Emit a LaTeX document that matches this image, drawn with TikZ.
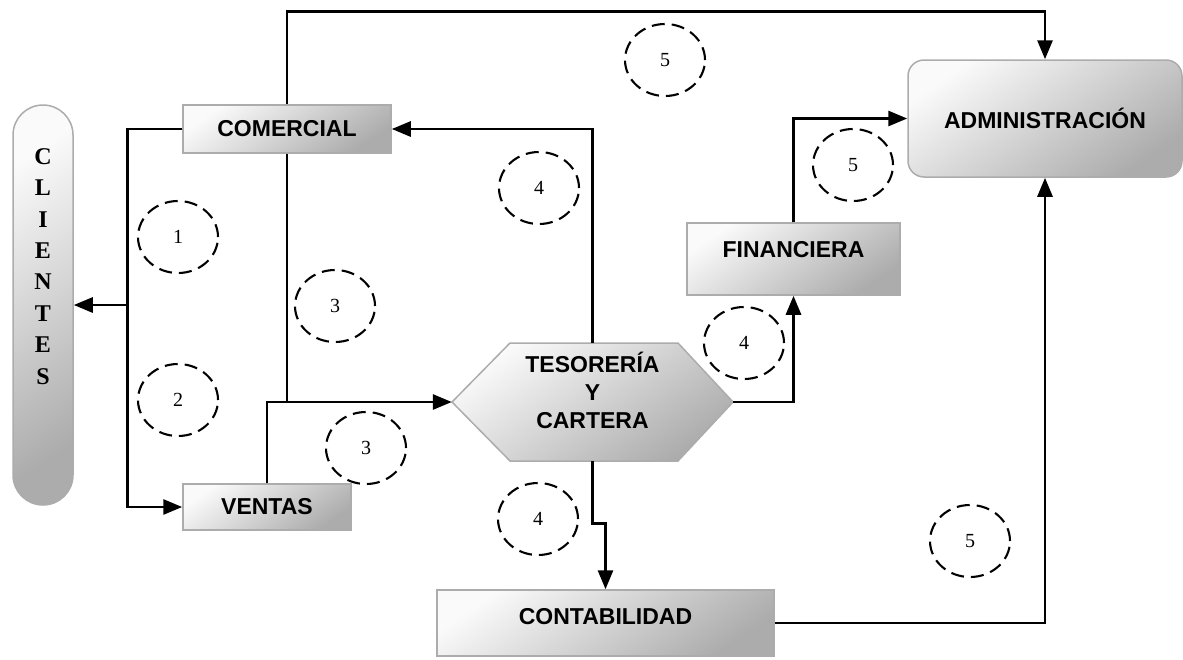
\documentclass[tikz,border=0pt]{standalone}
\usepackage{fontspec}
\setmainfont{Liberation Serif}
\newfontfamily\arialf{Liberation Sans}
\usetikzlibrary{arrows.meta,shapes.geometric}
\begin{document}
\begin{tikzpicture}[x=1pt,y=-1pt,
  shadebox/.style={draw=gray!65, line width=1.5pt, top color=gray!4, bottom color=gray!65, shading angle=35},
  box/.style={shadebox, rectangle, inner sep=0pt, font=\arialf\bfseries\fontsize{23}{28}\selectfont},
  ln/.style={line width=2.8pt},
  arr/.style={ln, -{Triangle[length=19pt,width=15pt]}},
  num/.style={ellipse, draw, line width=2.1pt, dash pattern=on 13pt off 7pt, minimum width=80pt, minimum height=72pt, inner sep=0pt, font=\fontsize{20}{22}\selectfont}
]
\useasboundingbox (0,0) rectangle (1183,659);

% hexagon body
\path[shadebox] (452,402) -- ++(58,-59) -- ++(168,0) -- ++(55,59) -- ++(-55,59) -- ++(-168,0) -- cycle;

\node[box, minimum width=60pt, minimum height=400pt, rounded corners=30pt, font=\bfseries\fontsize{24}{31.4}\selectfont] (cli) at (43,305)
  {\raisebox{37pt}[\height][\depth]{\begin{tabular}{@{}c@{}}C\\L\\I\\E\\N\\T\\E\\S\end{tabular}}};
\node[box, minimum width=208pt, minimum height=48pt] (com) at (287,129) {COMERCIAL\hspace{20pt}};
\node[box, minimum width=168pt, minimum height=46pt] (ven) at (267,507) {VENTAS};
\node[box, minimum width=213pt, minimum height=72pt] (fin) at (793.5,259) {\raisebox{9pt}[\height][\depth]{FINANCIERA}};
\node[box, minimum width=274pt, minimum height=117pt, rounded corners=16pt] (adm) at (1045,118.5) {ADMINISTRACIÓN};
\node[box, minimum width=337pt, minimum height=66pt] (con) at (605.5,623) {\raisebox{6pt}[\height][\depth]{CONTABILIDAD}};
\node[inner sep=0pt, minimum width=281pt, minimum height=118pt, font=\arialf\bfseries\fontsize{23}{28}\selectfont] (tes) at (592.5,402)
  {\raisebox{7pt}[\height][\depth]{\begin{tabular}{@{}c@{}}TESORERÍA\\Y\\CARTERA\end{tabular}}};

% connectors
\draw[arr] (com.north) -- ++(0,-93) -| (adm.north);
\draw[arr] (com.west) -- ++(-55,0) |- (ven.west);
\coordinate (jcl) at (128,305);
\draw[arr] (jcl) -- (cli.east);
\draw[ln] (com.south) -- (com.south |- tes.west);
\draw[arr] (ven.north) |- (tes.west);
\draw[arr] (tes.north) |- (com.east);
\draw[arr] (tes.east) -| (fin.south);
\draw[arr] (fin.north) |- (adm.west);
\draw[arr] (tes.south) -- ++(0,62) -| (con.north);
\draw[arr] (con.east) -| (adm.south);

% dashed markers
\node[num] (n1) at (178,237) {1\hspace{16pt}};
\node[num] (n2) at (178,400) {2\hspace{16pt}};
\node[num] (n3a) at (335,306) {3\hspace{16pt}};
\node[num] (n3b) at (366,448) {3\hspace{16pt}};
\node[num] (n4a) at (539,188) {4\hspace{16pt}};
\node[num] (n4b) at (744,343) {4\hspace{16pt}};
\node[num] (n4c) at (538,519) {4\hspace{16pt}};
\node[num] (n5a) at (665,60) {5\hspace{16pt}};
\node[num] (n5b) at (853,165) {5\hspace{16pt}};
\node[num] (n5c) at (970,541) {5\hspace{16pt}};
\end{tikzpicture}
\end{document}
